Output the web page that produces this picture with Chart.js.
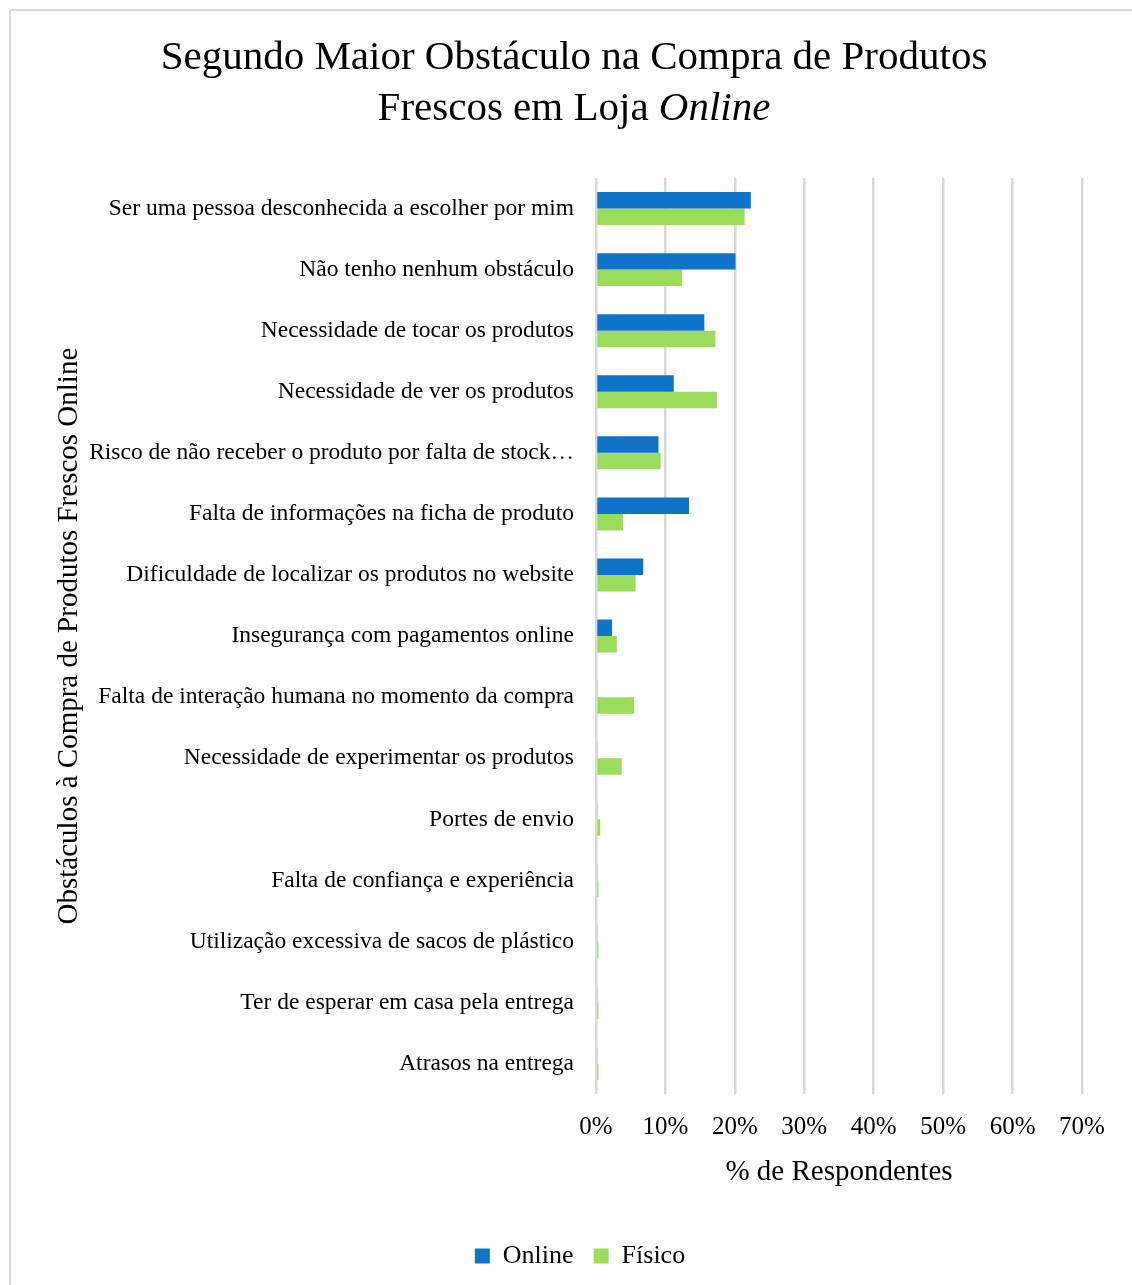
<!DOCTYPE html>
<html>
<head>
<meta charset="utf-8">
<script src="https://cdn.jsdelivr.net/npm/chart.js@4.4.1/dist/chart.umd.min.js"></script>
<style>
  html, body { margin: 0; padding: 0; background: #fff; }
  #wrap { position: relative; width: 1132px; height: 1285px; overflow: hidden; }
  #frame { position: absolute; left: 9px; top: 9px; width: 1140px; height: 1300px;
           border: 2px solid #d9d9d9; box-sizing: border-box; pointer-events: none; }
  canvas { position: absolute; left: 0; top: 0; }
</style>
</head>
<body>
<div id="wrap">
  <canvas id="obstaculosChart" width="1132" height="1285"></canvas>
  <div id="frame"></div>
</div>
<script>
// dados do gráfico
const categorias = [
  "Ser uma pessoa desconhecida a escolher por mim",
  "Não tenho nenhum obstáculo",
  "Necessidade de tocar os produtos",
  "Necessidade de ver os produtos",
  "Risco de não receber o produto por falta de stock…",
  "Falta de informações na ficha de produto",
  "Dificuldade de localizar os produtos no website",
  "Insegurança com pagamentos online",
  "Falta de interação humana no momento da compra",
  "Necessidade de experimentar os produtos",
  "Portes de envio",
  "Falta de confiança e experiência",
  "Utilização excessiva de sacos de plástico",
  "Ter de esperar em casa pela entrega",
  "Atrasos na entrega"
];
const valoresOnline = [22.3, 20.1, 15.6, 11.2, 9.0, 13.4, 6.8, 2.3, 0.2, 0.2, 0.2, 0.2, 0.2, 0.2, 0.2];
const valoresFisico = [21.4, 12.4, 17.2, 17.4, 9.3, 3.9, 5.7, 3.0, 5.5, 3.7, 0.6, 0.35, 0.35, 0.35, 0.35];
const ticksX = [0, 10, 20, 30, 40, 50, 60, 70];

const fonte = "'Liberation Serif', 'Times New Roman', serif";

// título em duas linhas, com "Online" em itálico
const tituloPlugin = {
  id: "tituloMisto",
  afterDraw(chart) {
    const ctx = chart.ctx;
    const cx = 574;
    const tam = 41;
    ctx.save();
    ctx.fillStyle = "#000";
    ctx.textBaseline = "middle";
    ctx.textAlign = "center";
    ctx.font = tam + "px " + fonte;
    ctx.fillText("Segundo Maior Obstáculo na Compra de Produtos", cx, 58);

    const parte1 = "Frescos em Loja ";
    const parte2 = "Online";
    const w1 = ctx.measureText(parte1).width;
    ctx.font = "italic " + tam + "px " + fonte;
    const w2 = ctx.measureText(parte2).width;
    const x = cx - (w1 + w2) / 2;
    ctx.textAlign = "left";
    ctx.font = tam + "px " + fonte;
    ctx.fillText(parte1, x, 109);
    ctx.font = "italic " + tam + "px " + fonte;
    ctx.fillText(parte2, x + w1, 109);
    ctx.restore();
  }
};

const ctx = document.getElementById("obstaculosChart").getContext("2d");

new Chart(ctx, {
  type: "bar",
  data: {
    labels: categorias,
    datasets: [
      {
        label: "Online",
        data: valoresOnline,
        backgroundColor: "#0f74c8",
        borderWidth: 0,
        categoryPercentage: 0.54,
        barPercentage: 1.0
      },
      {
        label: "Físico",
        data: valoresFisico,
        backgroundColor: "#9cdc5c",
        borderWidth: 0,
        categoryPercentage: 0.54,
        barPercentage: 1.0
      }
    ]
  },
  options: {
    indexAxis: "y",
    responsive: false,
    animation: false,
    layout: {
      padding: { top: 178, left: 52, right: 24, bottom: 6 }
    },
    scales: {
      x: {
        min: 0,
        max: 70,
        afterBuildTicks(scale) {
          scale.ticks = ticksX.map(v => ({ value: v }));
        },
        afterFit(scale) {
          scale.paddingRight = 50;
        },
        ticks: {
          callback: v => v + "%",
          color: "#000",
          font: { family: fonte, size: 25 },
          padding: 18
        },
        grid: {
          color: "#d9d9d9",
          lineWidth: 2.5,
          drawTicks: false
        },
        border: { display: false },
        title: {
          display: true,
          text: "% de Respondentes",
          color: "#000",
          font: { family: fonte, size: 29 },
          padding: { top: -5, bottom: 33 }
        }
      },
      y: {
        afterFit(scale) {
          scale.width = 596 - 52;
        },
        ticks: {
          color: "#000",
          font: { family: fonte, size: 23.5 },
          padding: 14,
          autoSkip: false
        },
        grid: { display: false },
        border: { display: false },
        title: {
          display: true,
          text: "Obstáculos à Compra de Produtos Frescos Online",
          color: "#000",
          font: { family: fonte, size: 29 },
          padding: 0
        }
      }
    },
    plugins: {
      legend: {
        position: "bottom",
        labels: {
          color: "#000",
          font: { family: fonte, size: 26 },
          boxWidth: 15,
          boxHeight: 15,
          padding: 20
        }
      },
      tooltip: { enabled: false },
      title: { display: false }
    }
  },
  plugins: [tituloPlugin]
});
</script>
</body>
</html>
